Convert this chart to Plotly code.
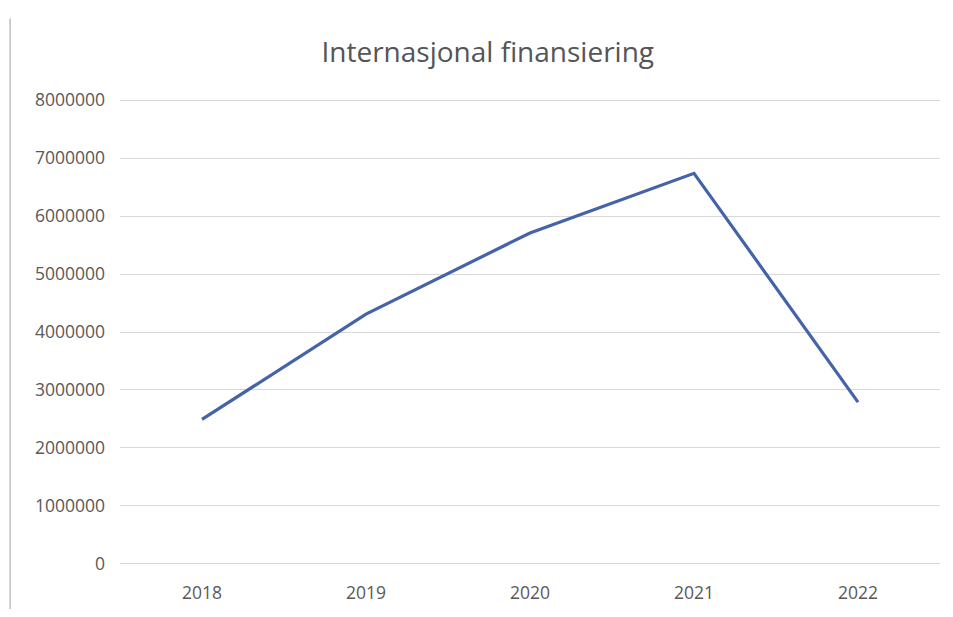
import plotly.graph_objects as go

years = ["2018", "2019", "2020", "2021", "2022"]
values = [2490000, 4310000, 5710000, 6740000, 2790000]
y_ticks = [0, 1000000, 2000000, 3000000, 4000000, 5000000, 6000000, 7000000, 8000000]
title_text = "Internasjonal finansiering"

fig = go.Figure()
fig.add_trace(go.Scatter(
    x=years, y=values, mode="lines",
    line=dict(color="#4563a8", width=3.2),
    showlegend=False,
))

FONT = "Open Sans, Liberation Sans, sans-serif"
fig.update_layout(
    width=937, height=601,
    paper_bgcolor="white", plot_bgcolor="white",
    margin=dict(l=112, r=5, t=90, b=41),
    font=dict(family=FONT, color="#595959", size=17.5),
    title=dict(text=title_text, x=0.512, xanchor="center", y=0.927, yanchor="middle",
               font=dict(size=28, color="#555555", family=FONT)),
    xaxis=dict(type="category", range=[-0.5, 4.5], showgrid=False, zeroline=False, showline=False,
               ticks="", ticklabelstandoff=14, tickfont=dict(size=17.5, color="#595959")),
    yaxis=dict(range=[-40000, 8040000], tickvals=y_ticks, ticktext=[str(v) for v in y_ticks],
               showgrid=True, gridcolor="#d9d9d9", gridwidth=1, zeroline=False,
               showline=False, ticks="", ticklabelstandoff=14,
               tickfont=dict(size=17.5, color="#595959")),
)
fig.add_shape(type="line", xref="paper", yref="paper", x0=-0.134, x1=-0.134, y0=-0.15, y1=1.17,
              line=dict(color="#bfbfbf", width=1.5))
fig.write_html("out.html")
